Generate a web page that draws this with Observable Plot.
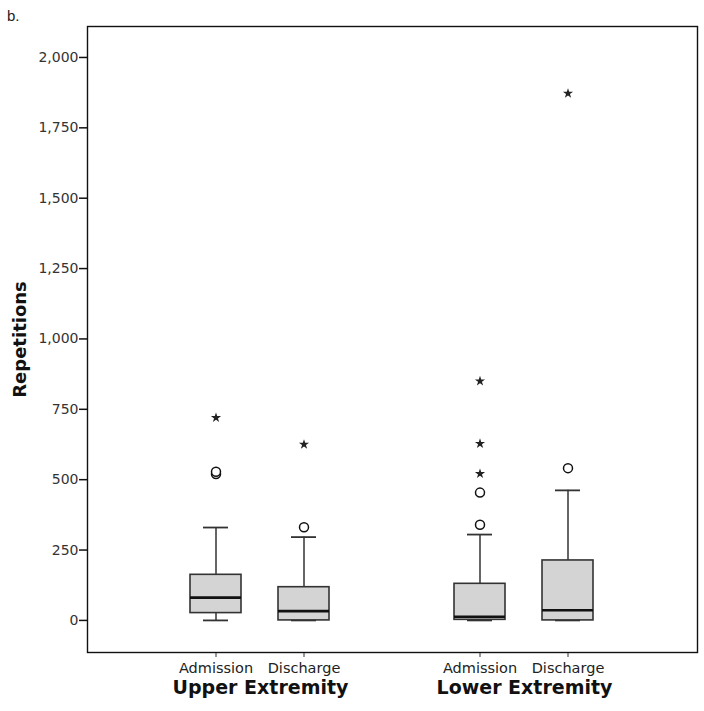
<!DOCTYPE html>
<html><head><meta charset="utf-8">
<script src="https://cdn.jsdelivr.net/npm/d3@7"></script>
<script src="https://cdn.jsdelivr.net/npm/@observablehq/plot@0.6"></script>
<style>
body{margin:0;background:#fff}
#wrap{position:relative;width:704px;height:711px}
#tag{position:absolute;left:7px;top:7px;font:15px "Liberation Sans",Arial,sans-serif;color:#222}
</style>
</head><body><div id="wrap"><div id="tag">b.</div></div>
<script>
const groups = ["Upper Extremity", "Lower Extremity"];
const phases = ["Admission", "Discharge"];
const boxGroup = ["Upper Extremity", "Upper Extremity", "Lower Extremity", "Lower Extremity"];
const boxPhase = ["Admission", "Discharge", "Admission", "Discharge"];
const whiskerLow = [0, 0, 0, 0];
const quartile1 = [26, 0, 2, 0];
const medians = [81, 33, 13, 36];
const quartile3 = [162, 118, 130, 213];
const whiskerHigh = [330, 296, 305, 462];
const outlierBox = [0, 0, 1, 2, 2, 3];
const outlierValue = [520, 528, 331, 340, 454, 541];
const extremeBox = [0, 1, 2, 2, 2, 3];
const extremeValue = [720, 625, 521, 628, 850, 1872];
const yTicks = [0, 250, 500, 750, 1000, 1250, 1500, 1750, 2000];

const key = (g, p) => g + "|" + p;
const boxes = boxGroup.map((g, i) => ({
  key: key(g, boxPhase[i]), lo: whiskerLow[i], q1: quartile1[i], med: medians[i], q3: quartile3[i], hi: whiskerHigh[i]
}));
const boxKeys = boxes.map(d => d.key);
const xDomain = [boxKeys[0], boxKeys[1], "spacer", boxKeys[2], boxKeys[3]];
const outliers = outlierValue.map((v, i) => ({key: boxKeys[outlierBox[i]], v}));
const extremes = extremeValue.map((v, i) => ({key: boxKeys[extremeBox[i]], v}));
const groupLabels = groups.map(g => ({key: key(g, phases[0]), label: g}));

const stroke = "#333";
const chart = Plot.plot({
  width: 704, height: 711,
  marginLeft: 87, marginRight: 7, marginTop: 26, marginBottom: 59,
  style: {fontFamily: "'DejaVu Sans', sans-serif", fontSize: "12px", background: "transparent"},
  x: {type: "band", domain: xDomain, paddingInner: 0.416, paddingOuter: 1.135, axis: null},
  y: {domain: [-114, 2110], axis: null},
  marks: [
    Plot.axisY({ticks: yTicks, tickFormat: d3.format(","), tickSize: 8, tickPadding: 1, stroke: "#111", strokeWidth: 1.5, fill: "#333", fontSize: 14, label: null}),
    Plot.axisX({ticks: boxKeys, tickFormat: d => d.split("|")[1], tickSize: 5, tickPadding: 5, stroke: "#333", fill: "#222", fontSize: 14.5, label: null}),
    Plot.ruleX(boxes, {x: "key", y1: "q3", y2: "hi", stroke, strokeWidth: 1.5}),
    Plot.ruleX(boxes, {x: "key", y1: "lo", y2: "q1", stroke, strokeWidth: 1.5}),
    Plot.tickY(boxes, {x: "key", y: "hi", stroke, strokeWidth: 1.8, insetLeft: 13, insetRight: 13}),
    Plot.tickY(boxes, {x: "key", y: "lo", stroke, strokeWidth: 1.8, insetLeft: 13, insetRight: 13}),
    Plot.barY(boxes, {x: "key", y1: "q1", y2: "q3", fill: "#d4d4d4", stroke, strokeWidth: 1.6}),
    Plot.tickY(boxes, {x: "key", y: "med", stroke: "#111", strokeWidth: 2.6}),
    Plot.dot(outliers, {x: "key", y: "v", r: 4.5, stroke: "#111", strokeWidth: 1.5, fill: "white"}),
    Plot.dot(extremes, {x: "key", y: "v", symbol: "star", r: 3.2, fill: "#222", stroke: "none"}),
    Plot.frame({stroke: "#111", strokeWidth: 1.4}),
    Plot.text(["Repetitions"], {frameAnchor: "left", textAnchor: "middle", rotate: -90, dx: -67, fontSize: 18, fontWeight: "bold", fill: "#111"}),
    Plot.text(groupLabels, {x: "key", text: "label", dx: 44.5, frameAnchor: "bottom", dy: 41, fontSize: 19, fontWeight: "bold", fill: "#111"})
  ]
});
document.getElementById("wrap").appendChild(chart);
chart.style.position = "absolute";
chart.style.left = "0"; chart.style.top = "0";
document.getElementById("wrap").appendChild(document.getElementById("tag"));
</script>
</body></html>
